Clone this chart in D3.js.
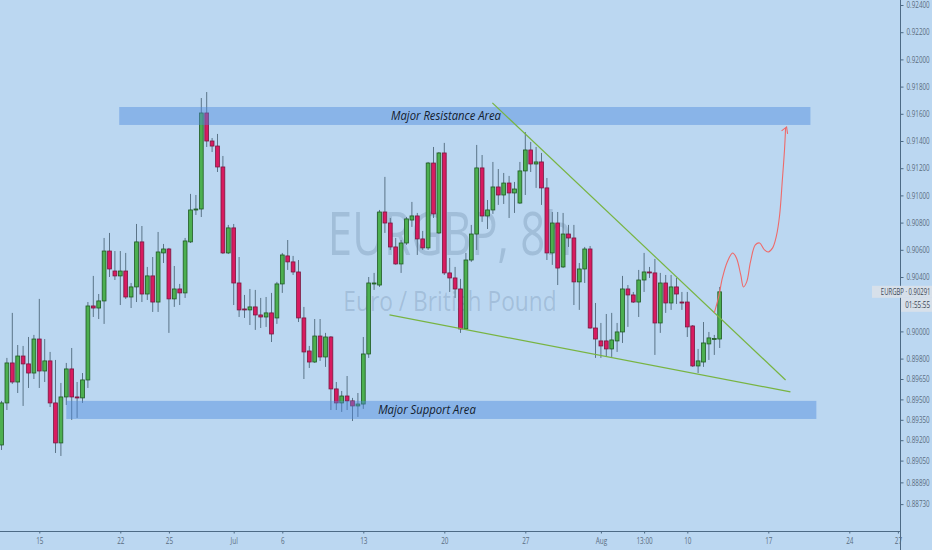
<!DOCTYPE html>
<html><head><meta charset="utf-8">
<script src="https://cdn.jsdelivr.net/npm/d3@7/dist/d3.min.js"></script>
<style>
html,body{margin:0;padding:0;background:#bbd7f1;overflow:hidden;}
svg{display:block;}
</style></head><body>
<svg id="chart" width="932" height="550"></svg>
<script>
// ---- data (EURGBP, 8h candles) ----
const openP = [0.89165,0.89474,0.89768,0.89628,0.89819,0.89761,0.89694,0.89944,0.89709,0.89783,
0.89474,0.89180,0.89518,0.89724,0.89518,0.89511,0.89643,0.90187,0.90172,0.90224,
0.90591,0.90444,0.90408,0.90444,0.90253,0.90327,0.90658,0.90275,0.90408,0.90216,
0.90577,0.90606,0.90239,0.90312,0.90283,0.90658,0.90893,0.90900,0.91606,0.91400,
0.91363,0.91209,0.90577,0.90761,0.90356,0.90165,0.90158,0.90180,0.90121,0.90106,
0.90136,0.90099,0.90349,0.90555,0.90511,0.90437,0.90099,0.89856,0.89775,0.89966,
0.89812,0.89959,0.89577,0.89474,0.89525,0.89489,0.89452,0.89466,0.89834,0.90349,
0.90341,0.90878,0.90797,0.90621,0.90496,0.90650,0.90819,0.90849,0.90680,0.90614,
0.91238,0.90724,0.91312,0.90430,0.90393,0.90312,0.90018,0.90525,0.90716,0.91202,
0.90849,0.90893,0.91062,0.91003,0.91091,0.91018,0.90944,0.91180,0.91334,0.91231,
0.91246,0.91055,0.90577,0.90797,0.90474,0.90716,0.90687,0.90364,0.90459,0.90606,
0.90025,0.89930,0.89930,0.89871,0.89930,0.89996,0.90312,0.90268,0.90216,0.90378,
0.90437,0.90430,0.90062,0.90356,0.90209,0.90327,0.90216,0.90216,0.90040,0.89746,
0.89775,0.89908,0.89944,0.89944];
const highP = [0.89489,0.89805,0.90136,0.89900,0.89893,0.89959,0.89974,0.90239,0.89944,0.89849,
0.89790,0.89621,0.89768,0.89878,0.89628,0.89694,0.90216,0.90408,0.90275,0.90687,
0.90724,0.90591,0.90591,0.90577,0.90356,0.90790,0.90775,0.90474,0.90547,0.90731,
0.90643,0.90614,0.90481,0.90349,0.90687,0.91011,0.91003,0.91716,0.91760,0.91422,
0.91452,0.91290,0.90783,0.90790,0.90547,0.90268,0.90312,0.90305,0.90246,0.90253,
0.90283,0.90364,0.90577,0.90672,0.90555,0.90525,0.90180,0.89893,0.90091,0.90091,
0.89989,0.89966,0.89628,0.89562,0.89672,0.89511,0.89547,0.89959,0.90400,0.90430,
0.90893,0.91136,0.90834,0.90687,0.90672,0.90841,0.90952,0.90871,0.90739,0.91246,
0.91356,0.91319,0.91386,0.90540,0.90474,0.90386,0.90577,0.90783,0.91371,0.91297,
0.90966,0.91246,0.91194,0.91165,0.91143,0.91099,0.91246,0.91466,0.91393,0.91356,
0.91312,0.91128,0.90878,0.90878,0.90871,0.90783,0.90783,0.90503,0.90621,0.90628,
0.90209,0.90062,0.90128,0.90136,0.90062,0.90408,0.90341,0.90290,0.90452,0.90577,
0.90474,0.90533,0.90430,0.90415,0.90415,0.90393,0.90290,0.90290,0.90047,0.89871,
0.90069,0.89996,0.89974,0.90327];
const lowP = [0.89128,0.89422,0.89614,0.89547,0.89452,0.89584,0.89650,0.89584,0.89628,0.89444,
0.89106,0.89084,0.89459,0.89349,0.89364,0.89474,0.89584,0.90106,0.90091,0.90055,
0.90400,0.90378,0.90194,0.90239,0.90172,0.90216,0.90216,0.90231,0.90143,0.90143,
0.90503,0.89989,0.90180,0.90194,0.90246,0.90650,0.90856,0.90841,0.91356,0.91319,
0.91172,0.90569,0.90569,0.90194,0.90106,0.90099,0.90047,0.90011,0.90025,0.90033,
0.89922,0.90055,0.90283,0.90452,0.90415,0.90069,0.89650,0.89731,0.89768,0.89783,
0.89739,0.89422,0.89422,0.89408,0.89422,0.89341,0.89371,0.89430,0.89805,0.90305,
0.90327,0.90724,0.90599,0.90490,0.90430,0.90636,0.90768,0.90562,0.90599,0.90599,
0.90834,0.90717,0.90415,0.90290,0.90246,0.89989,0.90011,0.90511,0.90599,0.90805,
0.90753,0.90864,0.90930,0.90937,0.90834,0.90871,0.90937,0.91003,0.91172,0.91055,
0.90930,0.90525,0.90489,0.90341,0.90466,0.90621,0.90194,0.90158,0.90356,0.90020,
0.89805,0.89805,0.89812,0.89812,0.89849,0.89915,0.90033,0.90209,0.90106,0.90290,
0.90393,0.89827,0.89989,0.90136,0.90158,0.90202,0.90158,0.89959,0.89739,0.89694,
0.89739,0.89790,0.89827,0.89878];
const closeP = [0.89474,0.89768,0.89628,0.89819,0.89761,0.89694,0.89944,0.89709,0.89783,0.89474,
0.89180,0.89518,0.89724,0.89518,0.89511,0.89643,0.90187,0.90172,0.90224,0.90591,
0.90459,0.90408,0.90444,0.90253,0.90327,0.90658,0.90275,0.90408,0.90216,0.90584,
0.90606,0.90239,0.90312,0.90283,0.90665,0.90893,0.90900,0.91606,0.91400,0.91363,
0.91209,0.90577,0.90761,0.90356,0.90158,0.90158,0.90180,0.90121,0.90106,0.90136,
0.89981,0.90349,0.90562,0.90511,0.90437,0.90099,0.89849,0.89775,0.89966,0.89812,
0.89959,0.89577,0.89474,0.89525,0.89489,0.89452,0.89466,0.89834,0.90356,0.90356,
0.90878,0.90797,0.90621,0.90496,0.90650,0.90827,0.90849,0.90680,0.90614,0.91238,
0.90864,0.91312,0.90430,0.90393,0.90312,0.90018,0.90525,0.90716,0.91202,0.90849,
0.90893,0.91062,0.91003,0.91091,0.91018,0.91047,0.91180,0.91334,0.91231,0.91246,
0.91055,0.90577,0.90797,0.90466,0.90716,0.90687,0.90364,0.90459,0.90606,0.90025,
0.89944,0.89893,0.89871,0.89937,0.89996,0.90312,0.90268,0.90216,0.90378,0.90437,
0.90433,0.90062,0.90356,0.90209,0.90327,0.90275,0.90213,0.90033,0.89746,0.89783,
0.89915,0.89952,0.89948,0.90291];

const xTickIndex = [7,22,31,43,52,67,82,97,111,119,127,142,157,166];
const xTickLabel = ["15","22","25","Jul","6","13","20","27","Aug","13:00","10","17","24","27"];
const yTickValue = [0.924,0.922,0.920,0.918,0.916,0.914,0.912,0.910,0.908,0.906,0.904,0.900,0.898,0.8965,0.895,0.8935,0.892,0.8905,0.8889,0.8873];
const yTickLabel = ["0.92400","0.92200","0.92000","0.91800","0.91600","0.91400","0.91200","0.91000","0.90800","0.90600","0.90400","0.90000","0.89800","0.89650","0.89500","0.89350","0.89200","0.89050","0.88890","0.88730"];

// zones: [startIndex, endIndex, lowPrice, highPrice]
const resistanceZone = [21.8, 149.8, 0.91518, 0.91650];
const supportZone = [12.0, 150.9, 0.89356, 0.89489];
// trend lines: [[index, price],[index, price]]
const upperTrend = [[90.9, 0.91680],[145.2, 0.89643]];
const lowerTrend = [[71.85, 0.90121],[146.1, 0.89555]];
// projected path [index, price]
const projPath = [[132.0,0.90136],[132.8,0.90253],[133.5,0.90393],[134.4,0.90511],[135.4,0.90577],
[136.1,0.90540],[136.9,0.90415],[137.4,0.90327],[138.0,0.90364],[138.7,0.90511],[139.6,0.90636],
[140.4,0.90650],[141.3,0.90599],[142.0,0.90584],[142.8,0.90614],[143.5,0.90702],[144.1,0.90856],
[144.6,0.91113],[145.0,0.91334],[145.2,0.91496]];
const lastPrice = 0.90291;

// ---- drawing ----
const W = 932, H = 550, plotR = 900, plotB = 531;
const svg = d3.select("#chart");
const x = d3.scaleLinear().domain([0, 166]).range([1.5, 1.5 + 166*5.4]);
const y = d3.scaleLinear().domain([0.904, 0.924]).range([277, 5]);

svg.append("rect").attr("width", W).attr("height", H).attr("fill", "#bbd7f1");
const defs = svg.append("defs");
defs.append("clipPath").attr("id","plot").append("rect").attr("x",0).attr("y",0).attr("width",plotR).attr("height",plotB);

// horizontally condense a text element with a transform (keeps true bounding box)
function condense(sel, k){
  sel.each(function(){
    const xx = +(this.getAttribute("x") || 0);
    this.setAttribute("x", 0);
    const prev = this.getAttribute("transform") || "";
    this.setAttribute("transform", `${prev} translate(${xx},0) scale(${k},1)`);
  });
}

// watermark
const wm = svg.append("g").attr("fill", "rgba(60,90,125,0.2)").attr("font-family","'Open Sans', sans-serif");
wm.append("text").attr("x", 450).attr("y", 255).attr("text-anchor","middle").attr("font-size", 60)
  .text("EURGBP, 8h").call(condense, 0.73);
wm.append("text").attr("x", 450).attr("y", 311).attr("text-anchor","middle").attr("font-size", 26.5)
  .text("Euro / British Pound").call(condense, 0.86);

const plot = svg.append("g").attr("clip-path","url(#plot)");
const data = openP.map((o,i)=>({i, o, h:highP[i], l:lowP[i], c:closeP[i]}));
const up = d => d.c >= d.o;

plot.append("g").selectAll("line").data(data).join("line")
  .attr("x1", d=>x(d.i)).attr("x2", d=>x(d.i))
  .attr("y1", d=>y(d.h)).attr("y2", d=>y(d.l))
  .attr("stroke", "#5b7488").attr("stroke-width", 1);

plot.append("g").selectAll("rect").data(data).join("rect")
  .attr("x", d=>x(d.i)-1.9).attr("width", 3.8)
  .attr("y", d=>y(Math.max(d.o,d.c)))
  .attr("height", d=>Math.max(1, Math.abs(y(d.o)-y(d.c))))
  .attr("fill", d=>up(d) ? "#4caf50" : "#d81b60")
  .attr("stroke", d=>up(d) ? "#1f5a22" : "#7a1840")
  .attr("stroke-width", 0.8);

// zones
function zone(z){
  const g = plot.append("g");
  g.append("rect").attr("x", x(z[0])).attr("width", x(z[1])-x(z[0]))
    .attr("y", y(z[3])).attr("height", y(z[2])-y(z[3]))
    .attr("fill", "rgba(78,138,222,0.45)");
  return g;
}
const rz = zone(resistanceZone);
rz.append("text").attr("x", 446).attr("y", y((resistanceZone[2]+resistanceZone[3])/2)+4.2)
  .attr("text-anchor","middle").attr("font-family","'Open Sans', sans-serif").attr("font-style","italic")
  .attr("font-size", 12).attr("fill","#13202e").text("Major Resistance Area").call(condense, 0.94);
const sz = zone(supportZone);
sz.append("text").attr("x", 427).attr("y", y((supportZone[2]+supportZone[3])/2)+4.2)
  .attr("text-anchor","middle").attr("font-family","'Open Sans', sans-serif").attr("font-style","italic")
  .attr("font-size", 12).attr("fill","#13202e").text("Major Support Area").call(condense, 0.94);

// trend lines
const ln = d3.line().x(d=>x(d[0])).y(d=>y(d[1]));
[upperTrend, lowerTrend].forEach(t=>{
  plot.append("path").attr("d", ln(t)).attr("fill","none").attr("stroke","#78b442").attr("stroke-width",1.2);
});
// projection
plot.append("path").attr("d", ln.curve(d3.curveCatmullRom)(projPath)).attr("fill","none")
  .attr("stroke","#ee6a6a").attr("stroke-width",1.1);
const tip = projPath[projPath.length-1];
plot.append("path").attr("d", `M${x(tip[0])-4},${y(tip[1])+3}L${x(tip[0])+1},${y(tip[1])-1}L${x(tip[0])+2},${y(tip[1])+6}`)
  .attr("fill","none").attr("stroke","#ee6a6a").attr("stroke-width",1.1);

// axes
const axCol = "#4d6a85", txtCol = "#5a6d80";
svg.append("line").attr("x1",0).attr("x2",plotR).attr("y1",plotB+0.5).attr("y2",plotB+0.5).attr("stroke",axCol);
svg.append("line").attr("x1",plotR+0.5).attr("x2",plotR+0.5).attr("y1",0).attr("y2",H).attr("stroke",axCol);

const xa = svg.append("g").attr("transform",`translate(0,${plotB+0.5})`)
  .call(d3.axisBottom(x).tickValues(xTickIndex).tickFormat((d,i)=>xTickLabel[i]).tickSize(2).tickPadding(4));
xa.select(".domain").remove();
xa.selectAll(".tick line").attr("stroke", axCol);
xa.selectAll("text").attr("fill", txtCol).attr("font-size", 8.5).attr("font-family","'Open Sans', sans-serif").call(condense, 0.75);

const ya = svg.append("g").attr("transform",`translate(${plotR+0.5},0)`)
  .call(d3.axisRight(y).tickValues(yTickValue).tickFormat((d,i)=>yTickLabel[i]).tickSize(3).tickPadding(3));
ya.select(".domain").remove();
ya.selectAll(".tick line").attr("stroke", axCol);
ya.selectAll("text").attr("fill", txtCol).attr("font-size", 8.5).attr("font-family","'Open Sans', sans-serif").call(condense, 0.74);

// last price label
const ly = y(lastPrice);
const lg = svg.append("g").attr("font-family","'Open Sans', sans-serif").attr("font-size",8.5);
lg.append("rect").attr("x", 872).attr("y", ly-6).attr("width", 60).attr("height", 12).attr("fill","#d7e0ea");
lg.append("rect").attr("x", 901).attr("y", ly+6).attr("width", 31).attr("height", 14).attr("fill","#d7e0ea");
lg.append("text").attr("x", 930.5).attr("y", ly+3).attr("text-anchor","end").attr("fill","#3b4754")
  .text("EURGBP · " + lastPrice.toFixed(5)).call(condense, 0.7);
lg.append("text").attr("x", 930).attr("y", ly+16).attr("text-anchor","end").attr("fill","#3b4754")
  .text("01:55:55").call(condense, 0.74);
</script>
</body></html>
